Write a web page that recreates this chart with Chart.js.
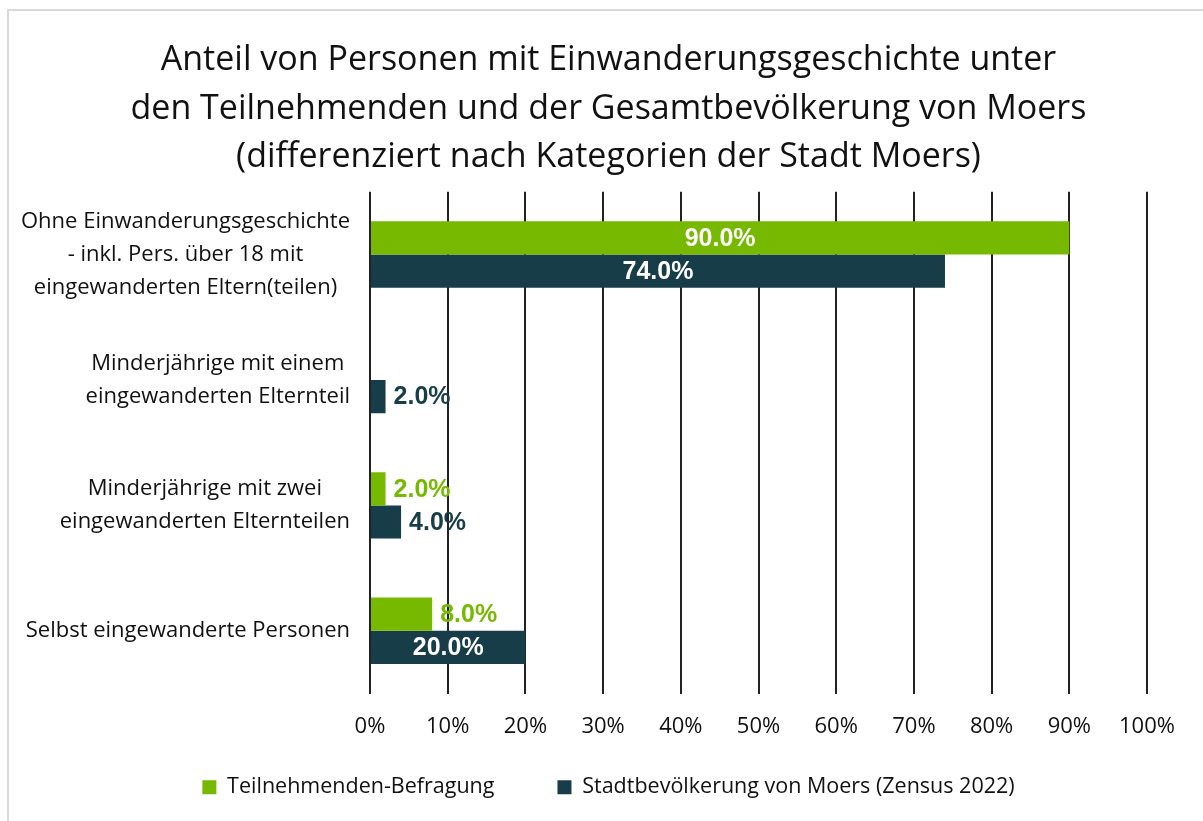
<!DOCTYPE html>
<html>
<head>
<meta charset="utf-8">
<script src="https://cdn.jsdelivr.net/npm/chart.js@4/dist/chart.umd.min.js"></script>
<style>
  html, body { margin: 0; padding: 0; background: #fff; }
  #wrap { position: absolute; left: 0; top: 0; width: 1203px; height: 821px; overflow: hidden; }
  #frame { position: absolute; left: 7px; top: 9px; width: 1300px; height: 900px;
           border-top: 2px solid #d9d9d9; border-left: 2px solid #d9d9d9; }
  canvas { position: absolute; left: 0; top: 0; }
</style>
</head>
<body>
<div id="wrap">
  <div id="frame"></div>
  <canvas id="c" width="1203" height="821"></canvas>
</div>
<script>
const titleLines = [
  "Anteil von Personen mit Einwanderungsgeschichte unter",
  "den Teilnehmenden und der Gesamtbevölkerung von Moers",
  "(differenziert nach Kategorien der Stadt Moers)"
];
const categories = [
  ["Ohne Einwanderungsgeschichte", "- inkl. Pers. über 18 mit", "eingewanderten Eltern(teilen)"],
  ["Minderjährige mit einem", "eingewanderten Elternteil"],
  ["Minderjährige mit zwei", "eingewanderten Elternteilen"],
  ["Selbst eingewanderte Personen"]
];
const seriesNames = ["Teilnehmenden-Befragung", "Stadtbevölkerung von Moers (Zensus 2022)"];
const teilnehmende = [90.0, null, 2.0, 8.0];
const stadtbevoelkerung = [74.0, 2.0, 4.0, 20.0];
const tickValues = [0, 10, 20, 30, 40, 50, 60, 70, 80, 90, 100];

const GREEN = "#76b900";
const DARK = "#173d48";
const FONT = "'Open Sans', 'Noto Sans', sans-serif";

const catLabelPlugin = {
  id: "catLabels",
  afterDraw(chart) {
    const ctx = chart.ctx;
    const y = chart.scales.y;
    ctx.save();
    ctx.font = "22px " + FONT;
    ctx.fillStyle = "#111";
    ctx.textBaseline = "middle";
    ctx.textAlign = "center";
    const right = chart.chartArea.left - 20;
    const lh = 33;
    categories.forEach((lines, i) => {
      const cy = y.getPixelForValue(i);
      const maxW = Math.max(...lines.map(l => ctx.measureText(l).width));
      const cx = right - maxW / 2;
      const top = cy - (lines.length - 1) * lh / 2;
      lines.forEach((l, j) => ctx.fillText(l, cx, top + j * lh));
    });
    ctx.restore();
  }
};

const dataLabelPlugin = {
  id: "dataLabels",
  afterDatasetsDraw(chart) {
    const ctx = chart.ctx;
    ctx.save();
    ctx.font = "bold 25px 'Liberation Sans', Arial, sans-serif";
    ctx.textBaseline = "middle";
    chart.data.datasets.forEach((ds, di) => {
      const meta = chart.getDatasetMeta(di);
      meta.data.forEach((bar, i) => {
        const v = ds.data[i];
        if (v === null || v === undefined) return;
        const txt = v.toFixed(1) + "%";
        if (v >= 15) {
          ctx.fillStyle = "#ffffff";
          ctx.textAlign = "center";
          ctx.fillText(txt, (bar.base + bar.x) / 2, bar.y + 1);
        } else {
          ctx.fillStyle = ds.backgroundColor;
          ctx.textAlign = "left";
          ctx.fillText(txt, bar.x + 8, bar.y + 1);
        }
      });
    });
    ctx.restore();
  }
};

new Chart(document.getElementById("c"), {
  type: "bar",
  data: {
    labels: categories.map(c => c.join(" ")),
    datasets: [
      { label: seriesNames[0], data: teilnehmende, backgroundColor: GREEN,
        categoryPercentage: 0.53, barPercentage: 1.0 },
      { label: seriesNames[1], data: stadtbevoelkerung, backgroundColor: DARK,
        categoryPercentage: 0.53, barPercentage: 1.0 }
    ]
  },
  options: {
    indexAxis: "y",
    responsive: false,
    animation: false,
    devicePixelRatio: 1,
    layout: { padding: { left: 14, right: 0, top: 10, bottom: 13 } },
    scales: {
      x: {
        min: 0, max: 100,
        afterBuildTicks(scale) { scale.ticks = tickValues.map(v => ({ value: v })); },
        grid: { color: "#222", lineWidth: 2, drawTicks: false },
        border: { display: false },
        ticks: { callback: v => v + "%", color: "#111", font: { family: FONT, size: 22 }, padding: 20 },
        afterFit(scale) {
          scale.height = 20;
          scale._computeLabelArea = function () { return null; };
        }
      },
      y: {
        grid: { display: false },
        border: { display: false },
        ticks: { display: false },
        afterFit(scale) { scale.width = 356; }
      },
      yRight: {
        axis: "y",
        type: "category",
        position: "right",
        grid: { display: false },
        border: { display: false },
        ticks: { display: false },
        afterFit(scale) { scale.width = 56; }
      }
    },
    plugins: {
      title: {
        display: true,
        text: titleLines,
        color: "#111",
        font: { family: FONT, size: 34, weight: "normal", lineHeight: 1.43 },
        padding: { top: 26, bottom: 10 }
      },
      legend: {
        position: "bottom",
        labels: {
          color: "#111",
          font: { family: FONT, size: 21.5 },
          boxWidth: 14, boxHeight: 14,
          padding: 63
        }
      },
      tooltip: { enabled: false }
    }
  },
  plugins: [catLabelPlugin, dataLabelPlugin]
});
</script>
</body>
</html>
